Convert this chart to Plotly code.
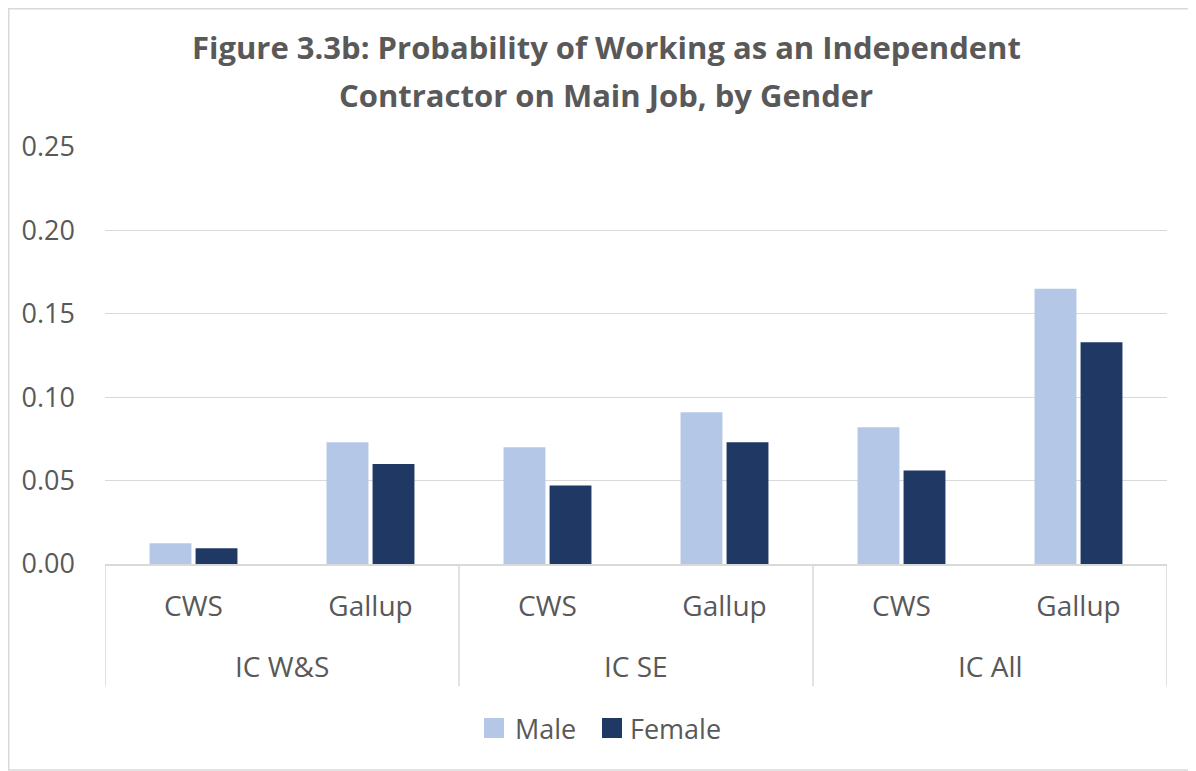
import plotly.graph_objects as go

groups = ["IC W&S", "IC W&S", "IC SE", "IC SE", "IC All", "IC All"]
sources = ["CWS", "Gallup", "CWS", "Gallup", "CWS", "Gallup"]
male = [0.0125, 0.073, 0.070, 0.091, 0.082, 0.165]
female = [0.0095, 0.060, 0.047, 0.073, 0.056, 0.133]
yticks = [0.0, 0.05, 0.10, 0.15, 0.20, 0.25]
ytick_text = ["0.00", "0.05", "0.10", "0.15", "0.20", "0.25"]
series_names = ["Male", "Female"]
series_colors = ["#B4C7E7", "#203864"]

W, H = 1196, 771
ML, MT, PW, PH = 97, 139, 1062, 417
MR = W - ML - PW
MB = H - MT - PH

FONT = "Open Sans"
TXT = "#595959"
GRID = "#D9D9D9"


def px(xf):
    return (xf - ML) / PW


def py(yf):
    return 1 - (yf - MT) / PH


cats = [f"{g} | {s}" for g, s in zip(groups, sources)]

fig = go.Figure()
for name, vals, col in zip(series_names, [male, female], series_colors):
    fig.add_trace(go.Bar(x=cats, y=vals, name=name, showlegend=False,
                         marker=dict(color=col, line=dict(width=0))))

fig.update_layout(
    width=W, height=H,
    margin=dict(l=ML, r=MR, t=MT, b=MB),
    paper_bgcolor="white", plot_bgcolor="white",
    barmode="group", bargap=0.48, bargroupgap=0.09,
    font=dict(family=FONT, color=TXT),
    showlegend=False,
)
fig.update_yaxes(range=[0, 0.25], tickvals=yticks, ticktext=ytick_text,
                 showgrid=True, gridcolor=GRID, gridwidth=1.3,
                 zeroline=False, showline=False, ticklabelstandoff=29,
                 tickfont=dict(family=FONT, size=27, color=TXT), ticks="")
fig.update_xaxes(type="category", categoryorder="array", categoryarray=cats,
                 tickvals=cats, ticktext=sources, range=[-0.5, len(cats) - 0.5],
                 showline=True, linecolor=GRID, linewidth=1.5,
                 ticklabelstandoff=17,
                 tickfont=dict(family=FONT, size=28, color=TXT), ticks="")

# title (two lines)
title_lines = ["Figure 3.3b: Probability of Working as an Independent",
               "Contractor on Main Job, by Gender"]
for line, yf in zip(title_lines, [39, 87]):
    fig.add_annotation(text=f"<b>{line}</b>", xref="paper", yref="paper",
                       x=px(W / 2), y=py(yf), xanchor="center", yanchor="middle",
                       showarrow=False, font=dict(family=FONT, size=31, color=TXT))

# group labels and dividers
group_names = []
for g in groups:
    if g not in group_names:
        group_names.append(g)
for g in group_names:
    idx = [i for i, gg in enumerate(groups) if gg == g]
    fig.add_annotation(text=g, xref="x", yref="paper", x=(idx[0] + idx[-1]) / 2,
                       y=py(658), xanchor="center", yanchor="middle", showarrow=False,
                       font=dict(family=FONT, size=28, color=TXT))
bounds = [-0.5] + [i + 0.5 for i in range(len(groups) - 1) if groups[i] != groups[i + 1]] + [len(groups) - 0.5]
for b in bounds:
    fig.add_shape(type="line", xref="x", yref="paper", x0=b, x1=b, y0=0, y1=py(678),
                  line=dict(color=GRID, width=1.5))

# legend (manual, Excel-like squares)
leg = [(476, 505), (594, 620)]
for (sx, tx), name, col in zip(leg, series_names, series_colors):
    fig.add_shape(type="rect", xref="paper", yref="paper",
                  x0=px(sx), x1=px(sx + 20), y0=py(710), y1=py(730),
                  line=dict(width=0), fillcolor=col)
    fig.add_annotation(text=name, xref="paper", yref="paper", x=px(tx), y=py(720),
                       xanchor="left", yanchor="middle", showarrow=False,
                       font=dict(family=FONT, size=27, color=TXT))

# chart border
fig.add_shape(type="rect", xref="paper", yref="paper",
              x0=px(0.75), x1=px(1187), y0=py(762), y1=py(0.75),
              line=dict(color=GRID, width=1.5), fillcolor="rgba(0,0,0,0)", layer="below")

fig.write_html("out.html")
